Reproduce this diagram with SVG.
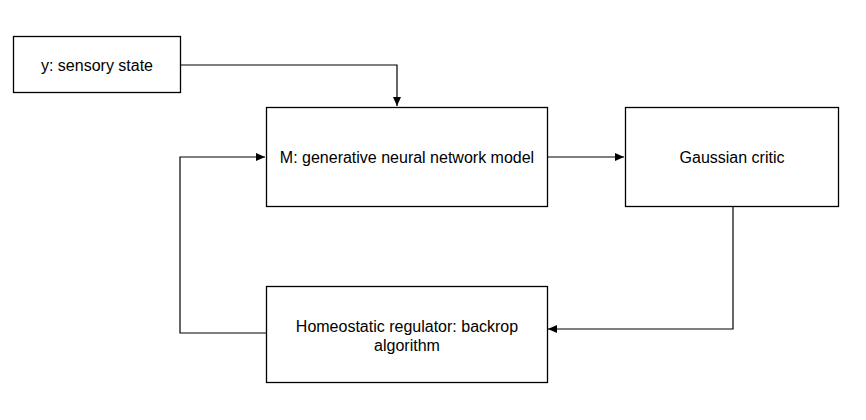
<svg xmlns="http://www.w3.org/2000/svg" width="866" height="420" viewBox="0 0 866 420">
<style>
.box{fill:#fff;stroke:#000;stroke-width:1.3}
.lbl{font-family:"Liberation Sans",Arial,sans-serif;font-size:16px;fill:#000;text-anchor:middle}
.edge{fill:none;stroke:#000;stroke-width:1.2}
</style>
<defs>
<marker id="arr" markerWidth="10" markerHeight="8" refX="9" refY="4" orient="auto" markerUnits="userSpaceOnUse">
<path d="M0,0 L9,4 L0,8 Z" fill="#000"/>
</marker>
</defs>
<rect width="866" height="420" fill="#fff"/>
<g id="connectors">
<path class="edge" d="M180,65 H397 V106" marker-end="url(#arr)"/>
<path class="edge" d="M547,157 H624" marker-end="url(#arr)"/>
<path class="edge" d="M733,207 V329 H548" marker-end="url(#arr)"/>
<path class="edge" d="M266,333 H180 V157 H265" marker-end="url(#arr)"/>
</g>
<g id="node-y">
<rect class="box" x="13.5" y="36.5" width="167" height="56"/>
<text class="lbl" x="97" y="70.5">y: sensory state</text>
</g>
<g id="node-m">
<rect class="box" x="266.5" y="107.5" width="281" height="99"/>
<text class="lbl" x="407" y="162.5">M: generative neural network model</text>
</g>
<g id="node-critic">
<rect class="box" x="625.5" y="107.5" width="213" height="99"/>
<text class="lbl" x="732" y="162.5">Gaussian critic</text>
</g>
<g id="node-homeo">
<rect class="box" x="266.5" y="286.5" width="281" height="96"/>
<text class="lbl" x="407" y="332">Homeostatic regulator: backrop</text>
<text class="lbl" x="407" y="351">algorithm</text>
</g>
</svg>
